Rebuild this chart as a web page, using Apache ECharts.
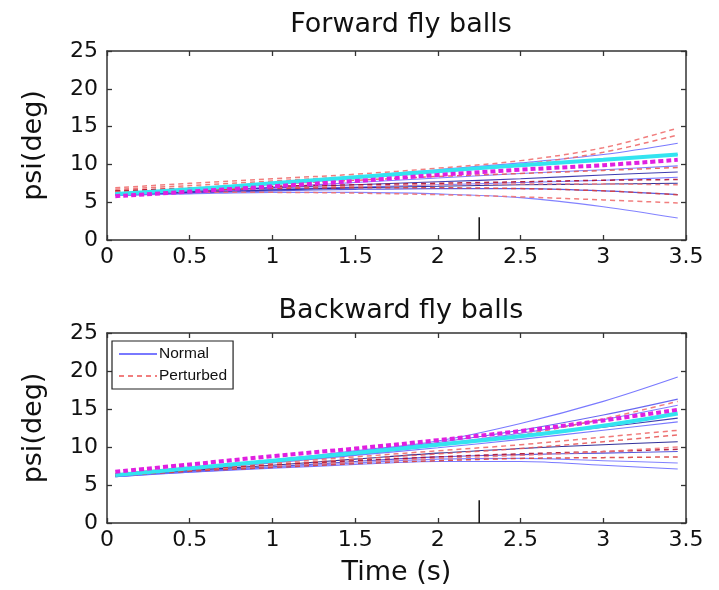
<!DOCTYPE html>
<html>
<head>
<meta charset="utf-8">
<script src="https://cdn.jsdelivr.net/npm/echarts@6/dist/echarts.min.js"></script>
<style>html,body{margin:0;padding:0;background:#fff}#c{width:719px;height:590px}</style>
</head>
<body>
<div id="c"></div>
<script>
// ---- data ----
var titles = ['Forward fly balls', 'Backward fly balls'];
var timeLabel = 'Time (s)';
var yLabel = 'psi(deg)';
var time = [0.05, 0.5, 1, 1.5, 2, 2.5, 3, 3.45];

var fwdNormal = [
  [6.2, 6.8, 7.6, 8.4, 9.3, 10.2, 11.3, 12.8],
  [6.1, 6.7, 7.4, 8.2, 9.0, 9.8, 10.6, 11.3],
  [6.1, 6.5, 7.0, 7.6, 8.2, 8.8, 9.3, 9.8],
  [6.0, 6.4, 6.9, 7.3, 7.7, 8.1, 8.6, 9.0],
  [5.9, 6.3, 6.7, 7.0, 7.3, 7.6, 7.9, 8.3],
  [6.0, 6.3, 6.6, 6.9, 7.1, 7.3, 7.4, 7.5],
  [5.9, 6.2, 6.5, 6.7, 6.8, 6.8, 6.5, 6.0],
  [5.9, 6.1, 6.3, 6.3, 6.1, 5.6, 4.4, 2.9]
];
var fwdPerturbed = [
  [6.9, 7.5, 8.1, 8.7, 9.5, 10.5, 12.2, 14.8],
  [6.7, 7.2, 7.8, 8.4, 9.1, 10.0, 11.6, 13.9],
  [6.5, 6.9, 7.4, 7.9, 8.4, 8.8, 9.2, 9.6],
  [6.5, 6.8, 7.1, 7.3, 7.5, 7.7, 7.9, 8.0],
  [6.3, 6.6, 6.9, 7.1, 7.3, 7.4, 7.4, 7.3],
  [6.4, 6.6, 6.8, 6.9, 6.9, 6.8, 6.5, 6.0],
  [6.3, 6.3, 6.3, 6.2, 6.0, 5.7, 5.3, 4.9]
];
var fwdNormalMean = [6.1, 6.7, 7.5, 8.3, 9.1, 9.9, 10.6, 11.3];
var fwdPerturbedMean = [5.8, 6.4, 7.1, 7.8, 8.6, 9.3, 9.9, 10.6];

var bwdNormal = [
  [6.3, 7.2, 8.3, 9.5, 10.8, 13.1, 16.0, 19.2],
  [6.3, 7.2, 8.2, 9.4, 10.6, 12.2, 14.2, 16.3],
  [6.2, 7.1, 8.1, 9.2, 10.4, 11.8, 13.6, 15.5],
  [6.2, 7.0, 8.0, 9.0, 10.2, 11.4, 12.6, 13.8],
  [6.2, 7.0, 7.9, 8.9, 9.9, 11.0, 12.2, 13.3],
  [6.2, 6.9, 7.6, 8.4, 9.2, 9.8, 10.3, 10.7],
  [6.1, 6.8, 7.4, 8.1, 8.7, 9.0, 9.2, 9.4],
  [6.1, 6.7, 7.3, 7.9, 8.4, 8.5, 8.2, 7.9],
  [6.1, 6.7, 7.2, 7.7, 8.1, 8.1, 7.6, 7.1]
];
var bwdPerturbed = [
  [6.5, 7.3, 8.2, 9.2, 10.3, 11.6, 13.7, 16.0],
  [6.4, 7.1, 7.9, 8.7, 9.5, 10.3, 11.3, 12.2],
  [6.4, 7.0, 7.7, 8.4, 9.1, 9.8, 10.7, 11.6],
  [6.4, 7.0, 7.6, 8.2, 8.7, 9.1, 9.4, 9.7],
  [6.3, 6.9, 7.5, 8.0, 8.5, 8.9, 9.4, 10.0],
  [6.2, 6.8, 7.3, 7.8, 8.2, 8.5, 8.6, 8.7]
];
var bwdNormalMean = [6.3, 7.2, 8.2, 9.2, 10.3, 11.4, 12.8, 14.4];
var bwdPerturbedMean = [6.75, 7.7, 8.8, 9.8, 10.9, 12.1, 13.5, 14.9];

var markerTime = [2.25, 2.25];
var markerValue = [0, 3];

var xTicks = {min: 0, max: 3.5, interval: 0.5};
var yTicks = {min: 0, max: 25, interval: 5};
var legendNames = ['Normal', 'Perturbed'];

// ---- build ----
var FONT = 'DejaVu Sans';
var grids = [
  {left: 107, right: 33, top: 51, height: 189},
  {left: 107, right: 33, top: 333, height: 190}
];
function pts(vals) { return time.map(function (t, i) { return [t, vals[i]]; }); }

var xAxes = [], yAxes = [];
grids.forEach(function (g, gi) {
  xAxes.push({
    gridIndex: gi, type: 'value', min: xTicks.min, max: xTicks.max, interval: xTicks.interval,
    position: 'bottom',
    name: gi === 1 ? timeLabel : '', nameLocation: 'middle', nameGap: 36,
    nameTextStyle: {fontFamily: FONT, fontSize: 27, color: '#111'},
    axisLine: {show: true, onZero: false, lineStyle: {color: '#333', width: 1.5}},
    axisTick: {show: true, inside: true, length: 5, lineStyle: {color: '#333', width: 1.3}},
    axisLabel: {fontFamily: FONT, fontSize: 22, color: '#111', margin: 6,
      formatter: function (v) { return String(v); }},
    splitLine: {show: false}
  });
  xAxes.push({
    gridIndex: gi, type: 'value', min: xTicks.min, max: xTicks.max, interval: xTicks.interval,
    position: 'top',
    axisLine: {show: true, onZero: false, lineStyle: {color: '#333', width: 1.5}},
    axisTick: {show: true, inside: true, length: 5, lineStyle: {color: '#333', width: 1.3}},
    axisLabel: {show: false}, splitLine: {show: false}
  });
  yAxes.push({
    gridIndex: gi, type: 'value', min: yTicks.min, max: yTicks.max, interval: yTicks.interval,
    position: 'left',
    name: yLabel, nameLocation: 'middle', nameGap: 60, nameRotate: 90,
    nameTextStyle: {fontFamily: FONT, fontSize: 27, color: '#111'},
    axisLine: {show: true, onZero: false, lineStyle: {color: '#333', width: 1.5}},
    axisTick: {show: true, inside: true, length: 5, lineStyle: {color: '#333', width: 1.3}},
    axisLabel: {fontFamily: FONT, fontSize: 22, color: '#111', margin: 9},
    splitLine: {show: false}
  });
  yAxes.push({
    gridIndex: gi, type: 'value', min: yTicks.min, max: yTicks.max, interval: yTicks.interval,
    position: 'right',
    axisLine: {show: true, onZero: false, lineStyle: {color: '#333', width: 1.5}},
    axisTick: {show: true, inside: true, length: 5, lineStyle: {color: '#333', width: 1.3}},
    axisLabel: {show: false}, splitLine: {show: false}
  });
});

var series = [];
function addLine(gi, name, vals, style, z) {
  series.push({
    type: 'line', name: name, xAxisIndex: gi * 2, yAxisIndex: gi * 2,
    data: pts(vals), smooth: 0.35, symbol: 'none', showSymbol: false,
    lineStyle: style, itemStyle: {color: style.color}, z: z, silent: true
  });
}
var normalColors = ['#6a6aff', '#5858f0', '#7070ff', '#2a2aa8', '#6a6aff', '#1c1c90', '#4848d8', '#7474ff', '#6a6aff'];
var pertColors = ['#f07070', '#ee6a6a', '#e85a5a', '#b01030', '#f07878', '#d84040', '#f07070', '#c02030'];
[[fwdNormal, fwdPerturbed, fwdNormalMean, fwdPerturbedMean],
 [bwdNormal, bwdPerturbed, bwdNormalMean, bwdPerturbedMean]].forEach(function (set, gi) {
  set[0].forEach(function (v, i) {
    addLine(gi, legendNames[0], v, {color: normalColors[i % normalColors.length], width: 1.1, opacity: 0.9}, 3);
  });
  set[1].forEach(function (v, i) {
    addLine(gi, legendNames[1], v, {color: pertColors[i % pertColors.length], width: 1.5, type: [5, 4], opacity: 0.9}, 4);
  });
  addLine(gi, 'NormalMean', set[2], {color: '#33e4f0', width: 4}, 5);
  addLine(gi, 'PerturbedMean', set[3], {color: '#e020e0', width: 4, type: [5, 3]}, 6);
  series.push({
    type: 'line', name: 'marker', xAxisIndex: gi * 2, yAxisIndex: gi * 2,
    data: markerTime.map(function (t, i) { return [t, markerValue[i]]; }),
    symbol: 'none', lineStyle: {color: '#111', width: 1.5}, z: 7, silent: true
  });
});

var option = {
  animation: false,
  backgroundColor: '#fff',
  title: [
    {text: titles[0], left: 396, top: 6, textAlign: 'center',
      textStyle: {fontFamily: FONT, fontSize: 27, fontWeight: 'normal', color: '#111'}},
    {text: titles[1], left: 396, top: 292, textAlign: 'center',
      textStyle: {fontFamily: FONT, fontSize: 27, fontWeight: 'normal', color: '#111'}}
  ],
  legend: {
    data: legendNames.slice(),
    orient: 'vertical', left: 112, top: 341, padding: [5, 6, 5, 6], itemGap: 6,
    itemWidth: 38, itemHeight: 14, borderColor: '#222', borderWidth: 1.2, backgroundColor: '#fff',
    itemStyle: {opacity: 0},
    textStyle: {fontFamily: 'Liberation Sans', fontSize: 15.5, color: '#111', padding: [0, 0, 0, -3]},
    selectedMode: false, z: 20
  },
  grid: grids,
  xAxis: xAxes,
  yAxis: yAxes,
  series: series
};
var chart = echarts.init(document.getElementById('c'), null, {renderer: 'canvas'});
chart.setOption(option);
</script>
</body>
</html>
